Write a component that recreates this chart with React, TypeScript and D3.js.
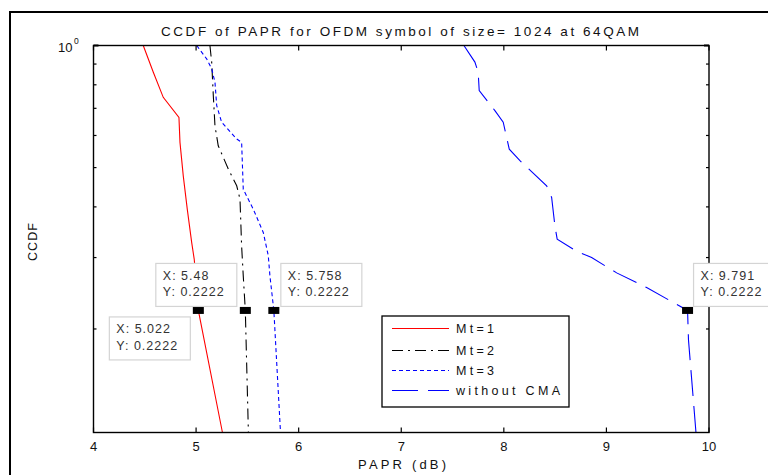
import React from 'react'
import * as d3 from 'd3'

// values
const paprMt1 = [4.485, 4.583, 4.68, 4.833, 4.843, 4.875, 4.914, 4.957, 4.982, 5.022, 5.257]
const ccdfMt1 = [1.0, 0.859, 0.745, 0.665, 0.577, 0.477, 0.395, 0.327, 0.297, 0.2222, 0.1111]

const paprMt2 = [5.135, 5.152, 5.168, 5.184, 5.216, 5.314, 5.396, 5.428, 5.444, 5.46, 5.48, 5.51]
const ccdfMt2 = [1.0, 0.91, 0.752, 0.634, 0.566, 0.496, 0.451, 0.418, 0.32, 0.27, 0.2222, 0.1111]

const paprMt3 = [5.006, 5.103, 5.152, 5.184, 5.201, 5.249, 5.396, 5.444, 5.46, 5.557, 5.655, 5.704, 5.72, 5.758, 5.823]
const ccdfMt3 = [1.0, 0.927, 0.876, 0.812, 0.711, 0.647, 0.588, 0.577, 0.442, 0.395, 0.346, 0.303, 0.27, 0.2222, 0.1111]

const paprNoCma = [7.611, 7.718, 7.75, 7.76, 7.913, 7.994, 8.053, 8.157, 8.417, 8.466, 8.498, 8.52, 8.71, 8.856, 9.1, 9.392, 9.791, 9.8, 9.873]
const ccdfNoCma = [1.0, 0.91, 0.859, 0.774, 0.691, 0.647, 0.555, 0.52, 0.451, 0.422, 0.359, 0.333, 0.311, 0.3, 0.275, 0.253, 0.2222, 0.188, 0.1111]

const seriesNames = ['Mt=1', 'Mt=2', 'Mt=3', 'without CMA']
const xTicks = [4, 5, 6, 7, 8, 9, 10]
const yMinorTicks = [0.2, 0.3, 0.4, 0.5, 0.6, 0.7, 0.8, 0.9]

// data cursors: [x, y]
const tipX = [5.022, 5.48, 5.758, 9.791]
const tipY = [0.2222, 0.2222, 0.2222, 0.2222]

const FONT = '"Liberation Sans", Arial, Helvetica, sans-serif'

const styles = [
  { color: '#ff0000', dash: null },
  { color: '#000000', dash: '11 5 2 5' },
  { color: '#0000ff', dash: '4 3' },
  { color: '#0000ff', dash: '26 10' },
]

// where each cursor box sits relative to its marker
const tipOffset = [
  [-89, 6.5],
  [-89.5, -47],
  [7, -47],
  [6, -47],
]

function App() {
  const left = 93.5, right = 709, top = 45.5, bottom = 432.5

  const x = d3.scaleLinear().domain([4, 10]).range([left, right])
  const y = d3.scaleLog().domain([1 / 9, 1]).range([bottom, top])

  const series = [
    d3.zip(paprMt1, ccdfMt1),
    d3.zip(paprMt2, ccdfMt2),
    d3.zip(paprMt3, ccdfMt3),
    d3.zip(paprNoCma, ccdfNoCma),
  ]

  const line = d3.line<number[]>()
    .x(d => x(d[0]))
    .y(d => y(d[1]))

  const legX = 382, legY = 316, legW = 187, legH = 91
  const legRows = [328.5, 350.5, 370.5, 390.5]

  return (
    <svg width={768} height={475} style={{ position: 'absolute', left: 0, top: 0, background: '#fff' }} fontFamily={FONT}>
      <rect x={0} y={0} width={768} height={475} fill='#fff' />
      {/* outer figure frame */}
      <rect x={10} y={12} width={800} height={500} fill='none' stroke='#000' strokeWidth={2} />

      <defs>
        <clipPath id='plotClip'>
          <rect x={left} y={top} width={right - left} height={bottom - top} />
        </clipPath>
      </defs>

      <text x={400} y={36} textAnchor='middle' fontSize={13.5} fill='#111' textLength={478} lengthAdjust='spacing'>
        CCDF of PAPR for OFDM symbol of size= 1024 at 64QAM
      </text>

      <g clipPath='url(#plotClip)'>
        {series.map((s, i) => (
          <path key={i} d={line(s) || ''} fill='none' stroke={styles[i].color} strokeWidth={1.1}
            strokeDasharray={styles[i].dash || undefined} />
        ))}
      </g>

      {/* axes box */}
      <rect x={left} y={top} width={right - left} height={bottom - top} fill='none' stroke='#000' strokeWidth={1.4} />

      {xTicks.map(t => (
        <g key={t}>
          <line x1={x(t)} x2={x(t)} y1={bottom} y2={bottom - 5} stroke='#000' strokeWidth={1.2} />
          <line x1={x(t)} x2={x(t)} y1={top} y2={top + 5} stroke='#000' strokeWidth={1.2} />
          <text x={x(t)} y={451} textAnchor='middle' fontSize={13} fill='#111'>{t}</text>
        </g>
      ))}

      {yMinorTicks.map(t => (
        <g key={t}>
          <line x1={left} x2={left + 3} y1={y(t)} y2={y(t)} stroke='#000' strokeWidth={1.2} />
          <line x1={right} x2={right - 3} y1={y(t)} y2={y(t)} stroke='#000' strokeWidth={1.2} />
        </g>
      ))}
      <line x1={left} x2={left + 5} y1={y(1)} y2={y(1)} stroke='#000' strokeWidth={2} />
      <line x1={right} x2={right - 5} y1={y(1)} y2={y(1)} stroke='#000' strokeWidth={2} />

      <text x={58} y={52} fontSize={13} fill='#111'>10</text>
      <text x={74} y={44} fontSize={8.5} fill='#111'>0</text>

      <text x={402} y={469} textAnchor='middle' fontSize={13} fill='#111' textLength={88} lengthAdjust='spacing'>PAPR (dB)</text>
      <text transform='translate(36.5,242) rotate(-90)' textAnchor='middle' fontSize={12.5} fill='#111' textLength={38} lengthAdjust='spacing'>CCDF</text>

      {/* data cursors */}
      {tipX.map((tx, i) => {
        const mx = x(tx), my = y(tipY[i])
        const bx = mx + tipOffset[i][0], by = my + tipOffset[i][1]
        return (
          <g key={i}>
            <rect x={bx} y={by} width={81} height={43} fill='#fff' stroke='#d4d4d4' strokeWidth={1.2} />
            <text x={bx + 7} y={by + 16.5} fontSize={12.5} fill='#333' letterSpacing={1}>X: {tx}</text>
            <text x={bx + 7} y={by + 33} fontSize={12.5} fill='#333' letterSpacing={1}>Y: {tipY[i].toFixed(4)}</text>
            <rect x={mx - 5.5} y={my - 3.5} width={11} height={7} fill='#000' />
          </g>
        )
      })}

      {/* legend */}
      <rect x={legX} y={legY} width={legW} height={legH} fill='#fff' stroke='#000' strokeWidth={1.3} />
      {seriesNames.map((n, i) => (
        <g key={n}>
          <line x1={392} x2={449} y1={legRows[i]} y2={legRows[i]} stroke={styles[i].color} strokeWidth={1.1}
            strokeDasharray={styles[i].dash || undefined} />
          <text x={456} y={legRows[i] + 4.5} fontSize={12.5} fill='#111'
            textLength={i === 3 ? 104 : 38} lengthAdjust='spacing'>{n}</text>
        </g>
      ))}
    </svg>
  )
}

export default App
